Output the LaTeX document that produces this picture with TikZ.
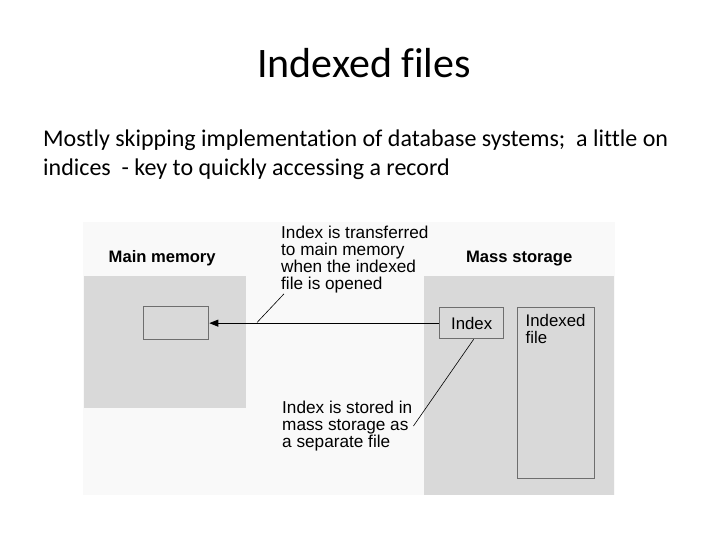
\documentclass[tikz,border=0pt]{standalone}
\usepackage{fontspec}
\setmainfont[Ligatures=NoCommon]{Carlito}
\newfontfamily\figfont{Liberation Sans}
\usetikzlibrary{positioning, arrows.meta}
\definecolor{areagray}{HTML}{D9D9D9}
\definecolor{boxedge}{HTML}{6E6E6E}
\definecolor{paper}{HTML}{F9F9F9}
\tikzset{
    area/.style={fill=areagray, draw=none, anchor=north west, inner sep=0pt},
    box/.style={draw=boxedge, line width=1.3pt, fill=areagray, anchor=north west, inner sep=0pt, font=\figfont\fontsize{16.8}{17}\selectfont},
    area label/.style={font=\figfont\fontsize{16.6}{18}\selectfont\bfseries, anchor=base},
    note/.style={font=\figfont\fontsize{17.2}{16.8}\selectfont, align=left, anchor=north west, inner sep=0pt},
    move_arrow/.style={line width=0.8pt, -{Triangle[length=9pt,width=7pt]}},
    leader/.style={line width=0.6pt}
}

\begin{document}
\begin{tikzpicture}[x=1pt, y=-1pt]
      \useasboundingbox (0,0) rectangle (720,540);

      % --- Title and text ---
      \node (title) [anchor=base, font=\fontsize{42}{48}\selectfont] at (364,78) {Indexed files};
      \node (intro) [anchor=base west, align=left, inner sep=0pt, font=\fontsize{24}{29}\selectfont] at (43,176)
          {Mostly skipping implementation of database systems;~ a little on\\indices~ - key to quickly accessing a record};

      % --- Figure ---
      \fill[paper] (83,222) rectangle (615,495);
      \node (mainmem) [area, minimum width=162pt, minimum height=132pt] at (84,276) {};
      \node (massmem) [area, minimum width=190pt, minimum height=219pt] at (424,276) {};
      \node (mainlbl) [area label] at ([xshift=-3pt, yshift=14pt]mainmem.north) {Main memory};
      \node (masslbl) [area label] at ([yshift=14pt]massmem.north) {Mass storage};

      % --- Boxes ---
      \node (memidx) [box, minimum width=65pt, minimum height=33pt] at (143,306) {};
      \node (index) [box, minimum width=64pt, minimum height=31pt] at (439,307) {Index};
      \node (idxfile) [box, minimum width=77pt, minimum height=171pt] at (517,307) {};
      \node (idxtext) [note, font=\figfont\fontsize{16.8}{16.7}\selectfont, below right=7.5pt and 8.5pt of idxfile.north west, anchor=north west] {Indexed\\file};

      % --- Transfer ---
      \draw[move_arrow] (index.west) -- (memidx.east);

      % --- Notes ---
      \node (opennote) [note] at (281,226) {Index is transferred\\to main memory\\when the indexed\\file is opened};
      \node (storenote) [note] at (282,401) {Index is stored in\\mass storage as\\a separate file};
      \coordinate (tap) at (257,322.5);
      \draw[leader] (tap) -- ([shift={(3pt,-1pt)}]opennote.south west);
      \draw[leader] ([xshift=2pt]index.south) -- ([xshift=1pt]storenote.east);
\end{tikzpicture}
\end{document}
